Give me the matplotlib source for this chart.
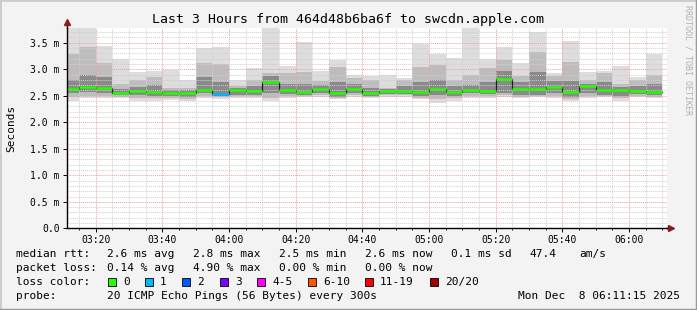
import numpy as np
import matplotlib
matplotlib.use("Agg")
import matplotlib.pyplot as plt
from matplotlib.patches import Rectangle
from matplotlib.lines import Line2D

plt.rcParams['font.family'] = ['DejaVu Sans Mono']

# 5-minute bins, start of first bin = 03:10 (minutes of the day)
first_bin = 190
bin_len = 5

# smoke / median values in ms, one per 5 min bin
hi = [3.78, 3.77, 3.43, 3.19, 2.94, 2.97, 2.98, 2.79, 3.40, 3.41, 2.79, 3.03,
      3.77, 3.06, 3.51, 2.96, 3.17, 2.89, 2.88, 2.89, 2.83, 3.47, 3.29, 3.22,
      3.77, 3.20, 3.41, 3.12, 3.71, 2.93, 3.54, 2.94, 2.97, 3.06, 2.86, 3.29]
p90 = [3.29, 3.42, 3.12, 2.72, 2.80, 2.86, 2.64, 2.65, 3.12, 3.10, 2.68, 2.79,
       2.93, 2.92, 2.95, 2.78, 3.04, 2.83, 2.80, 2.65, 2.80, 3.04, 3.08, 2.80,
       2.90, 3.03, 3.18, 2.88, 3.33, 2.88, 3.13, 2.80, 2.92, 2.72, 2.80, 2.90]
p75 = [2.80, 2.90, 2.85, 2.62, 2.67, 2.70, 2.60, 2.60, 2.86, 2.75, 2.64, 2.69,
       2.88, 2.72, 2.72, 2.70, 2.75, 2.72, 2.65, 2.62, 2.68, 2.75, 2.80, 2.68,
       2.70, 2.75, 2.96, 2.75, 2.95, 2.78, 2.78, 2.72, 2.75, 2.66, 2.68, 2.72]
median = [2.62, 2.67, 2.65, 2.55, 2.59, 2.57, 2.55, 2.55, 2.61, 2.53, 2.61, 2.59,
          2.76, 2.61, 2.58, 2.63, 2.55, 2.63, 2.55, 2.59, 2.59, 2.57, 2.63, 2.57,
          2.61, 2.59, 2.82, 2.62, 2.62, 2.67, 2.58, 2.68, 2.60, 2.60, 2.59, 2.57]
p25 = [2.55, 2.57, 2.55, 2.51, 2.52, 2.50, 2.50, 2.48, 2.55, 2.50, 2.52, 2.52,
       2.55, 2.53, 2.52, 2.55, 2.48, 2.55, 2.50, 2.54, 2.54, 2.50, 2.52, 2.50,
       2.55, 2.53, 2.55, 2.52, 2.52, 2.55, 2.48, 2.55, 2.52, 2.50, 2.53, 2.52]
p10 = [2.47, 2.50, 2.49, 2.48, 2.46, 2.45, 2.46, 2.44, 2.50, 2.47, 2.49, 2.49,
       2.46, 2.49, 2.49, 2.51, 2.45, 2.51, 2.47, 2.51, 2.51, 2.46, 2.44, 2.45,
       2.50, 2.49, 2.51, 2.48, 2.50, 2.50, 2.44, 2.50, 2.50, 2.45, 2.50, 2.48]
lo = [2.41, 2.45, 2.45, 2.45, 2.40, 2.40, 2.42, 2.40, 2.46, 2.44, 2.46, 2.46,
      2.40, 2.45, 2.47, 2.47, 2.43, 2.47, 2.45, 2.48, 2.48, 2.43, 2.37, 2.40,
      2.45, 2.45, 2.48, 2.45, 2.48, 2.45, 2.40, 2.45, 2.47, 2.40, 2.47, 2.45]
loss_bin = [0] * 36
loss_bin[9] = 1  # one lost ping at 03:55

loss_labels = ['0', '1', '2', '3', '4-5', '6-10', '11-19', '20/20']
loss_colors = ['#26ff00', '#00b8ff', '#0059ff', '#7e00ff', '#ff00ff',
               '#ff5500', '#ff0000', '#a10000']

xtick_labels = ['03:20', '03:40', '04:00', '04:20', '04:40',
                '05:00', '05:20', '05:40', '06:00']
ytick_labels = ['0.0', '0.5 m', '1.0 m', '1.5 m', '2.0 m', '2.5 m', '3.0 m', '3.5 m']

W, H = 697, 310
fig = plt.figure(figsize=(W / 100, H / 100), dpi=100, facecolor='#f3f3f3')

x0, x1, y_top, y_bot = 66.6, 666.6, 28.0, 228.4
ax = fig.add_axes([x0 / W, 1 - y_bot / H, (x1 - x0) / W, (y_bot - y_top) / H])
ax.set_facecolor('white')

starts = first_bin + bin_len * np.arange(len(median))
hi, p90, p75, median, p25, p10, lo = map(np.array, (hi, p90, p75, median, p25, p10, lo))

ax.bar(starts, hi - lo, bottom=lo, width=bin_len, align='edge', color='#dddddd', lw=0, zorder=1)
ax.bar(starts, p90 - p10, bottom=p10, width=bin_len, align='edge', color='#bdbdbd', lw=0, zorder=1.1)
ax.bar(starts, p75 - p25, bottom=p25, width=bin_len, align='edge', color='#8a8a8a', lw=0, zorder=1.2)

# median: dark step line plus coloured band
ax.step(np.append(starts, starts[-1] + bin_len), np.append(median, median[-1]),
        where='post', color='#202020', lw=0.9, zorder=3)
ax.hlines(median, starts, starts + bin_len, colors=[loss_colors[b] for b in loss_bin],
          lw=1.8, zorder=4)

t_end = 6 * 60 + 11.25
ax.set_xlim(t_end - 180, t_end)
ax.set_ylim(0, (y_bot - y_top) / 53.06)

ax.set_xticks(np.arange(200, 361, 20))
ax.set_xticklabels(xtick_labels)
ax.set_xticks(np.arange(195, 371, 5), minor=True)
ax.set_yticks(np.arange(0, 3.51, 0.5))
ax.set_yticklabels(ytick_labels)
ax.set_yticks(np.arange(0, 3.75, 0.1), minor=True)

ax.set_axisbelow(False)
ax.grid(which='minor', color='#cfcfcf', lw=0.7, ls=(0, (1, 1)))
ax.grid(which='major', color='#f0a0a0', lw=0.7, ls=(0, (1, 1)))
ax.tick_params(which='major', length=3, width=0.7, labelsize=7, pad=2)
ax.tick_params(axis='x', which='minor', length=1.5, width=0.6)
ax.tick_params(axis='y', which='minor', length=0)

for s in ('top', 'right'):
    ax.spines[s].set_visible(False)
for s in ('left', 'bottom'):
    ax.spines[s].set_linewidth(1.0)
    ax.spines[s].set_zorder(5)

# arrows at the end of the axes
ax.plot([0, 0], [1, 1.02], transform=ax.transAxes, color='black', lw=1, clip_on=False)
ax.plot([1, 1.006], [0, 0], transform=ax.transAxes, color='black', lw=1, clip_on=False)
ax.plot(0, 1.03, transform=ax.transAxes, marker='^', color='#8b1a1a', ms=4, clip_on=False)
ax.plot(1.008, 0, transform=ax.transAxes, marker='>', color='#8b1a1a', ms=4, clip_on=False)

fig.text(348.5 / W, 1 - 19 / H, 'Last 3 Hours from 464d48b6ba6f to swcdn.apple.com',
         ha='center', va='center', fontsize=9.5)
fig.text(11 / W, 1 - 128 / H, 'Seconds', rotation=90, ha='center', va='center', fontsize=8)
fig.text(688 / W, 1 - 60 / H, 'RRDTOOL / TOBI OETIKER', rotation=270, ha='center',
         va='center', fontsize=6, color='#b0b0b0')

def row(y, items):
    for x, s in items:
        fig.text(x / W, 1 - y / H, s, ha='left', va='center', fontsize=8)

row(254, [(16, 'median rtt:'), (107, '2.6 ms avg'), (193, '2.8 ms max'), (279, '2.5 ms min'),
          (365, '2.6 ms now'), (451, '0.1 ms sd'), (529, '47.4'), (579, 'am/s')])
row(268, [(16, 'packet loss:'), (107, '0.14 % avg'), (193, '4.90 % max'),
          (279, '0.00 % min'), (365, '0.00 % now')])
row(282, [(16, 'loss color:')])
box_x = [108, 145, 182, 220, 257, 308, 365, 430]
for bx, lab, c in zip(box_x, loss_labels, loss_colors):
    fig.patches.append(Rectangle((bx / W, 1 - 286 / H), 8 / W, 8 / H, transform=fig.transFigure,
                                 facecolor=c, edgecolor='black', lw=0.6))
    fig.text((bx + 15) / W, 1 - 282 / H, lab, ha='left', va='center', fontsize=8)
row(296, [(16, 'probe:'), (107, '20 ICMP Echo Pings (56 Bytes) every 300s')])
fig.text(680 / W, 1 - 296 / H, 'Mon Dec  8 06:11:15 2025', ha='right', va='center', fontsize=8)

# 3d-ish frame around the image
fig.lines.append(Line2D([0, 0, 1], [0, 1, 1], transform=fig.transFigure, color='#cbcbcb', lw=2))
fig.lines.append(Line2D([0, 1, 1], [0, 0, 1], transform=fig.transFigure, color='#999999', lw=2.5))

fig.savefig('out.png', dpi=100, facecolor=fig.get_facecolor())
